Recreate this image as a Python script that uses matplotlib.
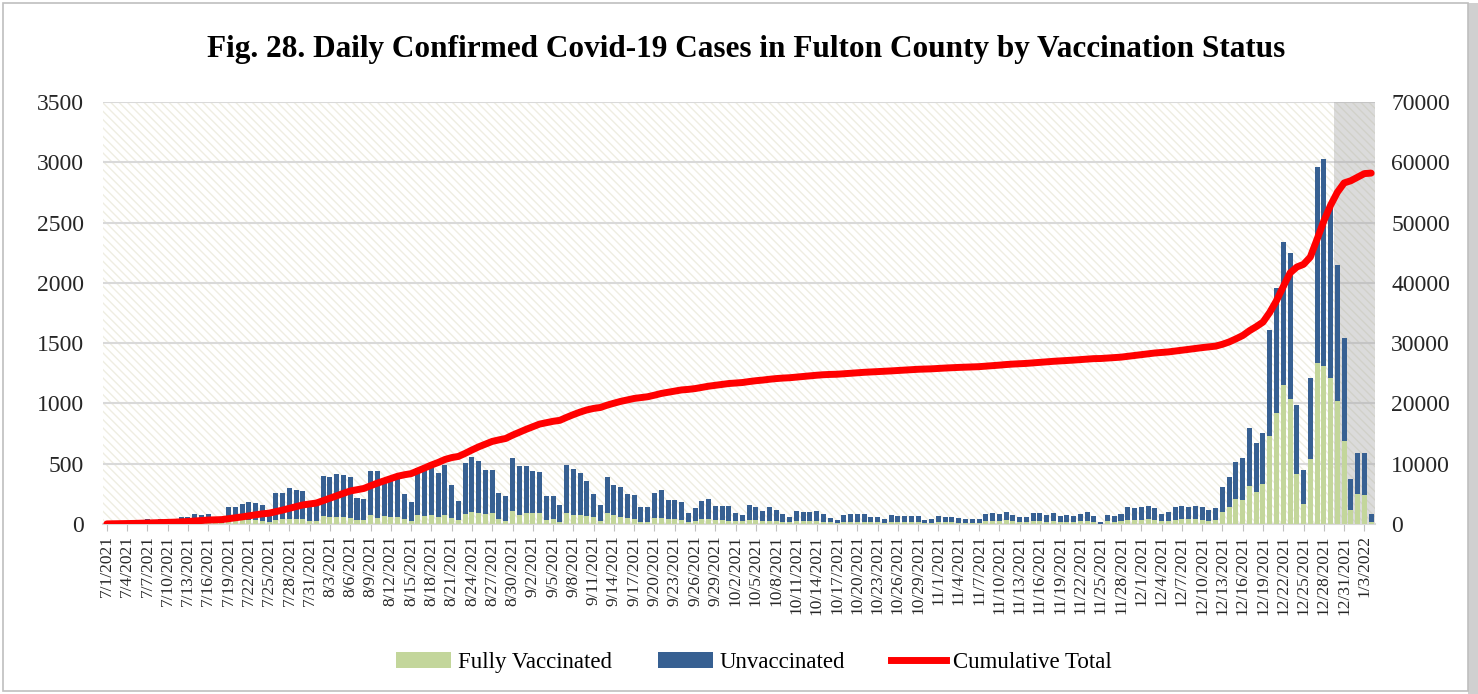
import numpy as np
import pandas as pd
import matplotlib
matplotlib.use('Agg')
import matplotlib.pyplot as plt
from matplotlib.patches import Rectangle
from matplotlib.lines import Line2D
from matplotlib.patches import Patch

plt.rcParams['font.family'] = ['Liberation Serif', 'DejaVu Serif']
plt.rcParams['hatch.linewidth'] = 1.0

# daily totals, one list per month
total_jul = [13, 16, 18, 20, 23, 33, 44, 28, 44, 28, 33, 55, 60, 85, 74, 80, 38, 33, 144, 139,
             163, 185, 170, 157, 108, 257, 257, 298, 284, 273, 160]
total_aug = [157, 396, 386, 415, 409, 387, 213, 206, 442, 436, 383, 383, 380, 248, 186, 468,
             478, 480, 426, 493, 320, 193, 508, 558, 525, 450, 449, 256, 235, 544, 478]
total_sep = [483, 442, 434, 235, 229, 161, 493, 456, 420, 359, 248, 157, 386, 323, 303, 248,
             240, 142, 142, 257, 284, 201, 201, 186, 91, 130, 193, 203, 153, 146]
total_oct = [146, 91, 74, 160, 140, 105, 138, 112, 83, 58, 105, 102, 102, 106, 83, 51, 30, 73,
             85, 81, 81, 56, 56, 45, 76, 69, 69, 69, 63, 36, 39]
total_nov = [69, 60, 56, 50, 41, 41, 41, 80, 90, 84, 98, 77, 55, 58, 89, 91, 76, 91, 63, 74,
             66, 83, 96, 63, 19, 77, 66, 83, 141, 130]
total_dec = [141, 146, 130, 83, 96, 138, 146, 141, 149, 141, 116, 130, 304, 392, 511, 550, 799,
             674, 757, 1609, 1954, 2336, 2247, 987, 448, 1208, 2957, 3027, 2617, 2148, 1545]
total_jan = [370, 591, 591, 83]

# fully vaccinated part of each day
vax_jul = [1, 2, 2, 2, 3, 5, 7, 4, 7, 4, 5, 9, 10, 14, 12, 13, 6, 5, 25, 22, 30, 33, 30, 28,
           20, 33, 38, 41, 41, 39, 28]
vax_aug = [25, 66, 55, 61, 58, 47, 33, 30, 75, 52, 66, 55, 55, 39, 25, 72, 69, 75, 61, 72, 47,
           36, 83, 100, 88, 83, 88, 41, 28, 110, 75]
vax_sep = [94, 94, 94, 33, 39, 19, 88, 75, 72, 66, 55, 25, 88, 75, 55, 52, 41, 19, 19, 52, 47,
           41, 39, 33, 19, 25, 39, 41, 33, 33]
vax_oct = [28, 22, 22, 33, 30, 25, 28, 25, 19, 17, 22, 22, 22, 22, 19, 14, 11, 17, 20, 18, 18,
           14, 14, 11, 18, 16, 16, 16, 15, 8, 9]
vax_nov = [18, 14, 14, 12, 10, 10, 10, 22, 25, 22, 33, 22, 14, 16, 25, 25, 20, 25, 17, 20, 18,
           22, 28, 17, 3, 22, 18, 22, 33, 33]
vax_dec = [36, 39, 33, 22, 25, 36, 41, 39, 41, 33, 25, 33, 97, 144, 207, 199, 315, 263, 332,
           730, 918, 1153, 1034, 415, 166, 536, 1338, 1313, 1208, 1020, 691]
vax_jan = [116, 246, 240, 19]

total = np.array(total_jul + total_aug + total_sep + total_oct + total_nov + total_dec + total_jan)
vaccinated = np.array(vax_jul + vax_aug + vax_sep + vax_oct + vax_nov + vax_dec + vax_jan)
unvaccinated = total - vaccinated
cumulative = np.cumsum(total)

dates = pd.date_range('2021-07-01', periods=len(total), freq='D')
labels = [f'{d.month}/{d.day}/{d.year}' for d in dates]
x = np.arange(len(total))

green = '#C3D69B'
blue = '#376092'
red = '#FF0000'
grid = '#D9D9D9'
txt = '#262626'

fig = plt.figure(figsize=(14.78, 6.94), dpi=100)
ax = fig.add_axes([0.0700, 0.245, 0.860, 0.608])

# striped plot area
bg = Rectangle((0, 0), 1, 1, transform=ax.transAxes, facecolor='white',
               edgecolor='#EFEDE2', hatch='\\\\\\\\', linewidth=0, zorder=0)
ax.add_patch(bg)
ax.patch.set_visible(False)

# grey band over the last days (behind the bars)
ax.axvspan(181.5, len(total) - 0.5, color='#A6A6A6', alpha=0.4, lw=0, zorder=2)

ax.bar(x, vaccinated, width=0.74, color=green, zorder=3)
ax.bar(x, unvaccinated, width=0.74, bottom=vaccinated, color=blue, zorder=3)

ax.set_xlim(-0.5, len(total) - 0.5)
ax.set_ylim(0, 3500)
ax.set_yticks(np.arange(0, 3501, 500))
ax.grid(axis='y', color=grid, lw=1.5, zorder=1)
ax.set_axisbelow(True)
ax.set_xticks(x[::3])
ax.set_xticklabels(labels[::3], rotation=90, fontsize=12.5, color=txt)
ax.tick_params(axis='x', length=5, color='#BFBFBF', pad=3)
ax.tick_params(axis='y', length=0, labelsize=17, labelcolor=txt, pad=14)
for s in ['top', 'left', 'right']:
    ax.spines[s].set_visible(False)
ax.spines['bottom'].set_color(grid)
ax.spines['bottom'].set_linewidth(1.5)

ax2 = ax.twinx()
ax2.plot(x, cumulative, color=red, lw=5, solid_capstyle='round', zorder=5)
ax2.set_ylim(0, 70000)
ax2.set_yticks(np.arange(0, 70001, 10000))
ax2.tick_params(axis='y', length=0, labelsize=17, labelcolor=txt, pad=12)
for s in ax2.spines.values():
    s.set_visible(False)

fig.text(0.505, 0.928, 'Fig. 28. Daily Confirmed Covid-19 Cases in Fulton County by Vaccination Status',
         ha='center', va='center', fontsize=22.5, fontweight='bold', color='black')

handles = [Patch(facecolor=green, label='Fully Vaccinated'),
           Patch(facecolor=blue, label='Unvaccinated'),
           Line2D([], [], color=red, lw=5, label='Cumulative Total')]
fig.legend(handles=handles, loc='center', bbox_to_anchor=(0.51, 0.046), ncol=3, frameon=False,
           fontsize=16.5, handlelength=2.4, handletextpad=0.3, columnspacing=2.0)

# outer frame with a little shadow
fig.add_artist(Rectangle((0.9935, 0.0), 0.0065, 0.995, transform=fig.transFigure,
                         facecolor='#D0D0D0', edgecolor='none'))
fig.add_artist(Rectangle((0.002, 0.004), 0.9915, 0.992, transform=fig.transFigure,
                         facecolor='none', edgecolor='#BFBFBF', lw=1.2))

fig.savefig('out.png', dpi=100)
